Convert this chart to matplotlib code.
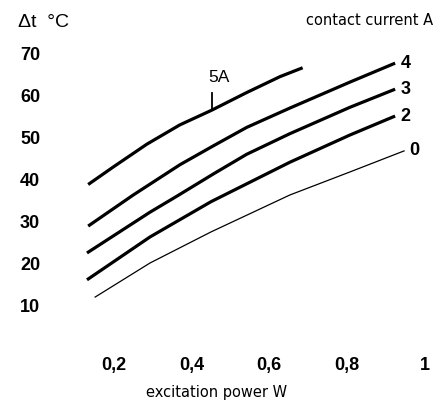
import matplotlib
matplotlib.use("Agg")
import matplotlib.pyplot as plt

plt.rcParams['font.family'] = ['Liberation Sans', 'DejaVu Sans']

# values
x_5 = [0.134, 0.199, 0.285, 0.370, 0.452, 0.542, 0.628, 0.686]
y_5 = [38.7, 42.9, 48.3, 52.9, 56.4, 60.6, 64.4, 66.5]

x_4 = [0.134, 0.25, 0.37, 0.456, 0.542, 0.653, 0.808, 0.924]
y_4 = [28.8, 36.2, 43.4, 47.9, 52.3, 56.9, 63.1, 67.6]

x_3 = [0.131, 0.293, 0.362, 0.456, 0.542, 0.653, 0.808, 0.924]
y_3 = [22.4, 32.1, 35.9, 41.2, 45.9, 50.8, 57.1, 61.4]

x_2 = [0.131, 0.293, 0.45, 0.653, 0.808, 0.924]
y_2 = [16.0, 26.2, 34.6, 44.0, 50.5, 55.0]

x_0 = [0.152, 0.293, 0.45, 0.653, 0.808, 0.947]
y_0 = [11.9, 20.0, 27.4, 36.2, 41.7, 46.7]

xticks = [0.2, 0.4, 0.6, 0.8, 1.0]
xtick_labels = ['0,2', '0,4', '0,6', '0,8', '1']
yticks = [10, 20, 30, 40, 50, 60, 70]

fig = plt.figure(figsize=(4.47, 4.01), dpi=100)
ax = fig.add_axes([0.1677, 0.187, 0.7823, 0.733])

for xs, ys in [(x_5, y_5), (x_4, y_4), (x_3, y_3), (x_2, y_2)]:
    ax.plot(xs, ys, color='black', lw=2.3, solid_capstyle='butt',
            solid_joinstyle='round')
ax.plot(x_0, y_0, color='black', lw=0.9)

# curve labels
ax.text(x_4[-1] + 0.014, y_4[-1], '4', fontsize=13, fontweight='bold', va='center')
ax.text(x_3[-1] + 0.014, y_3[-1], '3', fontsize=13, fontweight='bold', va='center')
ax.text(x_2[-1] + 0.014, y_2[-1], '2', fontsize=13, fontweight='bold', va='center')
ax.text(x_0[-1] + 0.014, y_0[-1], '0', fontsize=13, fontweight='bold', va='center')
ax.plot([x_5[4], x_5[4]], [y_5[4], y_5[4] + 4], color='black', lw=1.3)
ax.text(x_5[4] + 0.018, y_5[4] + 7.8, '5A', fontsize=12.5, ha='center', va='center')

ax.set_xlim(0.1, 1.0)
ax.set_ylim(5, 75)
ax.set_xticks(xticks)
ax.set_xticklabels(xtick_labels)
ax.set_yticks(yticks)
ax.tick_params(axis='both', length=0, labelsize=13)
ax.tick_params(axis='y', pad=25)
ax.tick_params(axis='x', pad=22)
for lab in ax.get_xticklabels() + ax.get_yticklabels():
    lab.set_fontweight('bold')
for s in ax.spines.values():
    s.set_visible(False)

fig.text(0.040, 0.945, '\u0394t  \u00b0C', fontsize=14, va='center', ha='left')
fig.text(0.970, 0.950, 'contact current A', fontsize=10.5, va='center', ha='right',
         family='DejaVu Sans')
fig.text(0.484, 0.022, 'excitation power W', fontsize=10.5, va='center', ha='center',
         family='DejaVu Sans')

fig.savefig('out.png', dpi=100)
